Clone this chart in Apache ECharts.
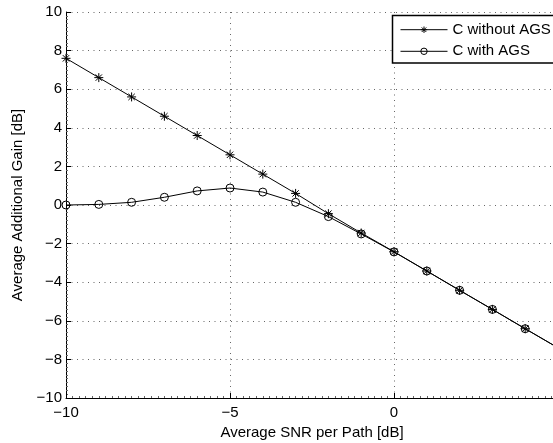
<!DOCTYPE html>
<html>
<head>
<meta charset="utf-8">
<script src="https://cdn.jsdelivr.net/npm/echarts@6/dist/echarts.min.js"></script>
<style>
  html, body { margin: 0; padding: 0; background: #fff; }
  #chart { width: 553px; height: 443px; }
</style>
</head>
<body>
<div id="chart"></div>
<script>
// Average SNR per path [dB]
const snrDb = [-10, -9, -8, -7, -6, -5, -4, -3, -2, -1, 0, 1, 2, 3, 4, 5];
// Average additional gain [dB] for C without AGS
const gainWithoutAgs = [7.6, 6.6, 5.6, 4.6, 3.6, 2.6, 1.6, 0.6, -0.45, -1.45, -2.42, -3.42, -4.42, -5.41, -6.41, -7.4];
// Average additional gain [dB] for C with AGS
const gainWithAgs = [0.0, 0.03, 0.14, 0.4, 0.73, 0.88, 0.67, 0.14, -0.6, -1.5, -2.43, -3.42, -4.42, -5.41, -6.41, -7.4];

const seriesNames = ['C without AGS', 'C with AGS'];
const xTitle = 'Average SNR per Path [dB]';
const yTitle = 'Average Additional Gain [dB]';

const FONT = '"Liberation Sans", Arial, Helvetica, sans-serif';
const minus = v => String(v).replace('-', '\u2212');
const pairs = ys => snrDb.map((x, i) => [x, ys[i]]);

// eight-armed asterisk marker (plus combined with cross)
const asterisk = 'path://M0,-10L0,10M-10,0L10,0M-7.07,-7.07L7.07,7.07M-7.07,7.07L7.07,-7.07';

const gridLine = { show: true, lineStyle: { color: '#666', width: 1, type: [1, 4.5] } };

const chart = echarts.init(document.getElementById('chart'), null, { renderer: 'canvas' });
chart.setOption({
  backgroundColor: '#fff',
  animation: false,
  textStyle: { fontFamily: FONT },
  // the plot runs a few pixels past the right edge of the page
  grid: { left: 66, top: 12, width: 492, height: 386, containLabel: false, outerBoundsMode: 'none' },
  // legend frame, open past the right edge of the page
  graphic: [{
    type: 'rect',
    z: 9,
    silent: true,
    shape: { x: 392.5, y: 15.5, width: 200, height: 47.5 },
    style: { fill: '#fff', stroke: '#000', lineWidth: 1.5 }
  }],
  legend: {
    orient: 'vertical',
    left: 392,
    top: 15.3,
    z: 10,
    padding: [6.9, 10, 4.2, 8],
    itemWidth: 47,
    itemHeight: 8,
    itemGap: 6.6,
    lineStyle: { width: 1, color: '#000' },
    itemStyle: { borderWidth: 1, borderColor: '#000', color: 'rgba(0,0,0,0)' },
    textStyle: { fontFamily: FONT, fontSize: 15, color: '#000' },
    data: seriesNames
  },
  xAxis: {
    type: 'value',
    min: -10, max: 5, interval: 5,
    name: xTitle,
    nameLocation: 'middle',
    nameGap: 25,
    nameTextStyle: { fontFamily: FONT, fontSize: 15, color: '#000' },
    axisLine: { show: true, onZero: false, lineStyle: { color: '#000', width: 1 } },
    axisTick: { show: true, inside: true, length: 5, lineStyle: { color: '#000' } },
    minorTick: { show: true, splitNumber: 25, length: 2, lineStyle: { color: '#666' } },
    axisLabel: { fontFamily: FONT, fontSize: 15, color: '#000', margin: 7, formatter: minus },
    splitLine: gridLine
  },
  yAxis: {
    type: 'value',
    min: -10, max: 10, interval: 2,
    name: yTitle,
    nameLocation: 'middle',
    nameGap: 34,
    nameTextStyle: { fontFamily: FONT, fontSize: 15, color: '#000' },
    axisLine: { show: true, onZero: false, lineStyle: { color: '#000', width: 1 } },
    axisTick: { show: true, inside: true, length: 5, lineStyle: { color: '#000' } },
    minorTick: { show: true, splitNumber: 10, length: 2, lineStyle: { color: '#666' } },
    axisLabel: { fontFamily: FONT, fontSize: 15, color: '#000', margin: 4, formatter: minus },
    splitLine: gridLine
  },
  series: [
    {
      name: seriesNames[0],
      type: 'line',
      data: pairs(gainWithoutAgs),
      symbol: asterisk,
      symbolSize: 9,
      lineStyle: { color: '#000', width: 1 },
      itemStyle: { color: 'rgba(0,0,0,0)', borderColor: '#000', borderWidth: 1 },
      emphasis: { disabled: true },
      z: 2
    },
    {
      name: seriesNames[1],
      type: 'line',
      data: pairs(gainWithAgs),
      symbol: 'circle',
      symbolSize: 8,
      lineStyle: { color: '#000', width: 1 },
      itemStyle: { color: 'rgba(0,0,0,0)', borderColor: '#000', borderWidth: 1 },
      emphasis: { disabled: true },
      z: 3
    }
  ]
});
</script>
</body>
</html>
